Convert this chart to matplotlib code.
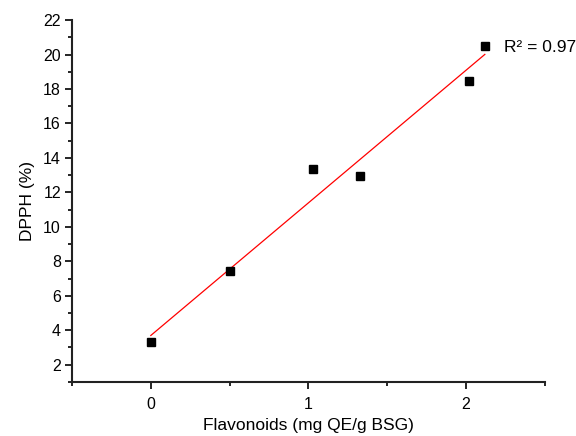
import matplotlib
matplotlib.use('Agg')
import matplotlib.pyplot as plt
import numpy as np
from matplotlib.ticker import MultipleLocator

plt.rcParams['font.family'] = ['Liberation Sans', 'DejaVu Sans']

## data
flavonoids = [0.0, 0.505, 1.027, 1.327, 2.017, 2.119]
dpph = [3.30, 7.42, 13.38, 12.95, 18.47, 20.50]
r2_label = 'R² = 0.97'

fig = plt.figure(figsize=(5.76, 4.36), dpi=100)
ax = fig.add_axes([0.125, 0.124, 0.821, 0.830])

## linear fit drawn from min to max x
k, b = np.polyfit(flavonoids, dpph, 1)
xs = np.array([min(flavonoids), max(flavonoids)])
ax.plot(xs, k * xs + b, color='red', lw=0.9)
ax.plot(flavonoids, dpph, 's', color='black', ms=6, mec='black')

ax.text(2.24, 20.4, r2_label, fontsize=12.5, va='center', ha='left')

ax.set_xlim(-0.5, 2.5)
ax.set_ylim(1, 22)
ax.xaxis.set_major_locator(MultipleLocator(1))
ax.xaxis.set_minor_locator(MultipleLocator(0.5))
ax.yaxis.set_major_locator(MultipleLocator(2))
ax.yaxis.set_minor_locator(MultipleLocator(1))

for s in ['top', 'right']:
    ax.spines[s].set_visible(False)
for s in ['left', 'bottom']:
    ax.spines[s].set_linewidth(1.5)
    ax.spines[s].set_color('#222222')

ax.tick_params(which='major', direction='out', length=5, width=1.2, labelsize=11.5, pad=3)
ax.tick_params(which='minor', direction='out', length=3, width=1.2)
ax.tick_params(axis='x', which='major', pad=6)

ax.set_xlabel('Flavonoids (mg QE/g BSG)', fontsize=12.5, labelpad=4)
ax.set_ylabel('DPPH (%)', fontsize=12.5, labelpad=6)

fig.savefig('out.png', dpi=100)
